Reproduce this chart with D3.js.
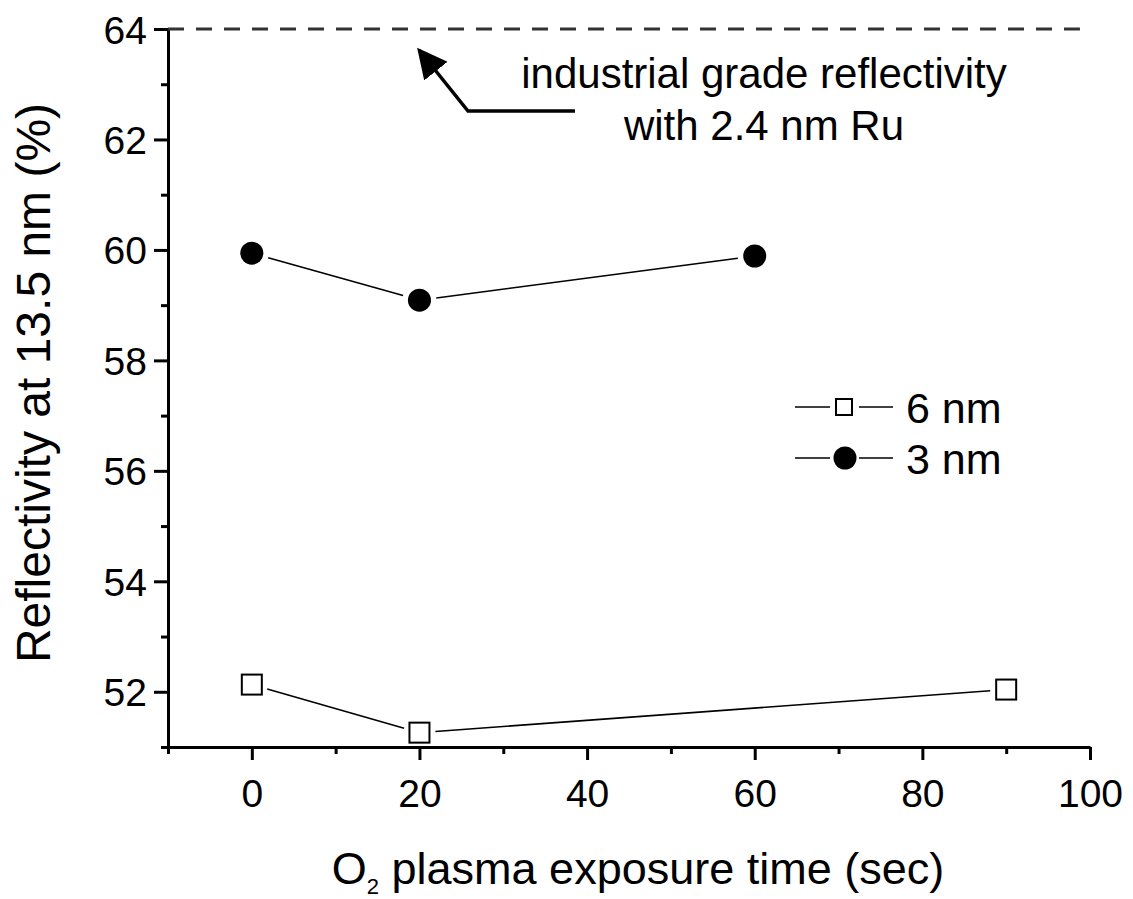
<!DOCTYPE html>
<html>
<head>
<meta charset="utf-8">
<script src="https://cdn.jsdelivr.net/npm/d3@7"></script>
<style>
  body { margin: 0; background: #fff; }
  svg text { font-family: "Liberation Sans", Arial, sans-serif; fill: #000; }
</style>
</head>
<body>
<div id="chart"></div>
<script>
// data
var times6 = [0, 20, 90];
var refl6 = [52.13, 51.26, 52.04];
var times3 = [0, 20, 60];
var refl3 = [59.94, 59.09, 59.89];
var industrialLevel = 64;
var xTicks = [0, 20, 40, 60, 80, 100];
var xMinor = [-10, 10, 30, 50, 70, 90];
var yTicks = [52, 54, 56, 58, 60, 62, 64];
var yMinor = [51, 53, 55, 57, 59, 61, 63];

var margin = { top: 29, right: 43, bottom: 152, left: 168 },
    width = 1133 - margin.left - margin.right,
    height = 899 - margin.top - margin.bottom;

var svg = d3.select("#chart").append("svg")
    .attr("width", 1133)
    .attr("height", 899);

var g = svg.append("g")
    .attr("transform", "translate(" + margin.left + "," + margin.top + ")");

var x = d3.scaleLinear().domain([-10, 100]).range([0, width]);
var y = d3.scaleLinear().domain([51, 64]).range([height, 0]);

// axes
var xAxis = g.append("g")
    .attr("transform", "translate(0," + height + ")")
    .call(d3.axisBottom(x).tickValues(xTicks).tickSize(13).tickPadding(8).tickSizeOuter(0));
g.append("g")
    .attr("transform", "translate(0," + height + ")")
    .call(d3.axisBottom(x).tickValues(xMinor).tickSize(7).tickFormat("").tickSizeOuter(0))
    .select(".domain").remove();

var yAxis = g.append("g")
    .call(d3.axisLeft(y).tickValues(yTicks).tickSize(14).tickPadding(7).tickSizeOuter(0));
g.append("g")
    .call(d3.axisLeft(y).tickValues(yMinor).tickSize(7).tickFormat("").tickSizeOuter(0))
    .select(".domain").remove();

g.selectAll(".domain").attr("stroke", "#000").attr("stroke-width", 3);
g.selectAll(".tick line").attr("stroke", "#000").attr("stroke-width", 3);
g.selectAll(".tick text").style("font-size", "39px").attr("fill", "#000");
xAxis.selectAll(".tick text").attr("dy", "1em");
yAxis.selectAll(".tick text").attr("dy", "0.36em");

// industrial grade dashed line
g.append("line")
    .attr("x1", 0).attr("x2", x(98.8))
    .attr("y1", y(industrialLevel)).attr("y2", y(industrialLevel))
    .attr("stroke", "#333").attr("stroke-width", 3)
    .attr("stroke-dasharray", "16,12");

// trimmed connecting segments (gaps at markers)
function drawSegments(xs, ys, gap) {
    for (var i = 0; i < xs.length - 1; i++) {
        var x1 = x(xs[i]), y1 = y(ys[i]), x2 = x(xs[i + 1]), y2 = y(ys[i + 1]);
        var dx = x2 - x1, dy = y2 - y1, len = Math.sqrt(dx * dx + dy * dy);
        var ux = dx / len, uy = dy / len;
        g.append("line")
            .attr("x1", x1 + ux * gap).attr("y1", y1 + uy * gap)
            .attr("x2", x2 - ux * gap).attr("y2", y2 - uy * gap)
            .attr("stroke", "#000").attr("stroke-width", 1.6);
    }
}
drawSegments(times6, refl6, 16);
drawSegments(times3, refl3, 17);

g.selectAll(".sq")
    .data(times6.map(function(d, i) { return [d, refl6[i]]; }))
    .enter().append("rect")
    .attr("x", function(d) { return x(d[0]) - 10; })
    .attr("y", function(d) { return y(d[1]) - 10; })
    .attr("width", 20).attr("height", 20)
    .attr("fill", "#fff").attr("stroke", "#000").attr("stroke-width", 2);

g.selectAll(".dot")
    .data(times3.map(function(d, i) { return [d, refl3[i]]; }))
    .enter().append("circle")
    .attr("cx", function(d) { return x(d[0]); })
    .attr("cy", function(d) { return y(d[1]); })
    .attr("r", 11.5)
    .attr("fill", "#000");

// annotation arrow
svg.append("defs").append("marker")
    .attr("id", "arrow")
    .attr("viewBox", "0 0 10 10")
    .attr("refX", 9).attr("refY", 5)
    .attr("markerWidth", 30).attr("markerHeight", 30)
    .attr("markerUnits", "userSpaceOnUse")
    .attr("orient", "auto")
    .append("path").attr("d", "M0,0 L10,5 L0,10 Z").attr("fill", "#000");

svg.append("path")
    .attr("d", "M575,111 L468,111 L419,50")
    .attr("fill", "none").attr("stroke", "#000").attr("stroke-width", 3.5)
    .attr("marker-end", "url(#arrow)");

svg.append("text").attr("x", 764).attr("y", 88).attr("text-anchor", "middle")
    .style("font-size", "42px").text("industrial grade reflectivity");
svg.append("text").attr("x", 764).attr("y", 140).attr("text-anchor", "middle")
    .style("font-size", "42px").text("with 2.4 nm Ru");

// legend
var legend = svg.append("g");
[[407, "6 nm"], [458, "3 nm"]].forEach(function(row, i) {
    legend.append("line").attr("x1", 795).attr("x2", 830).attr("y1", row[0]).attr("y2", row[0])
        .attr("stroke", "#000").attr("stroke-width", 1.6);
    legend.append("line").attr("x1", 859).attr("x2", 893).attr("y1", row[0]).attr("y2", row[0])
        .attr("stroke", "#000").attr("stroke-width", 1.6);
    if (i == 0) {
        legend.append("rect").attr("x", 836).attr("y", row[0] - 8).attr("width", 16).attr("height", 16)
            .attr("fill", "#fff").attr("stroke", "#000").attr("stroke-width", 2);
    } else {
        legend.append("circle").attr("cx", 845).attr("cy", row[0]).attr("r", 11.5).attr("fill", "#000");
    }
    legend.append("text").attr("x", 906).attr("y", row[0] + 16)
        .style("font-size", "43px").text(row[1]);
});

// axis titles
var xt = svg.append("text").attr("x", 638).attr("y", 884).attr("text-anchor", "middle")
    .style("font-size", "45px");
xt.append("tspan").text("O");
xt.append("tspan").attr("dy", 10).style("font-size", "22px").text("2");
xt.append("tspan").attr("dy", -10).text(" plasma exposure time (sec)");

svg.append("text")
    .attr("transform", "translate(50,383) rotate(-90)")
    .attr("text-anchor", "middle")
    .style("font-size", "48px")
    .text("Reflectivity at 13.5 nm (%)");
</script>
</body>
</html>
